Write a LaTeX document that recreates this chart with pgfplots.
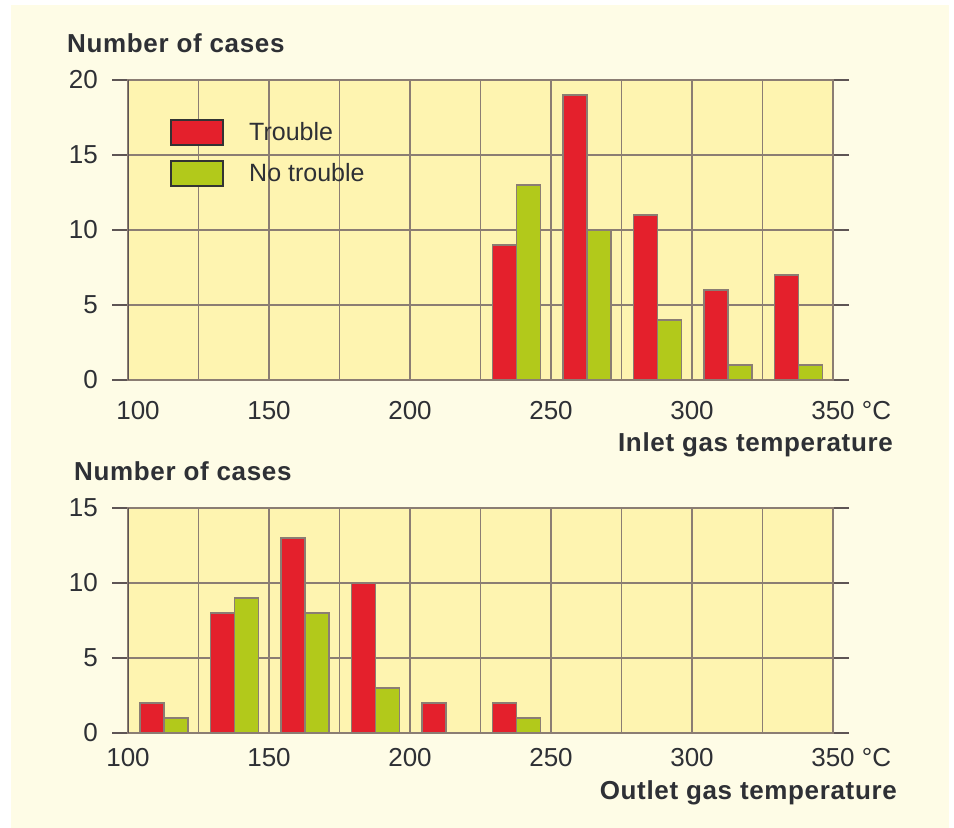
\documentclass[border=0pt]{standalone}
\usepackage{pgfplots}
\pgfplotsset{compat=1.18}
\usepackage{fontspec}
\setmainfont{Liberation Sans}
\definecolor{pagebg}{HTML}{FEFCE6}
\definecolor{axbg}{HTML}{FEF4B0}
\definecolor{tred}{HTML}{E4202C}
\definecolor{tgreen}{HTML}{B2C91B}
\definecolor{gridc}{HTML}{8B7D73}
\definecolor{txt}{HTML}{2E3035}
\definecolor{spine}{HTML}{5E5555}
\newcommand{\tfont}{\fontsize{25bp}{30bp}\selectfont}
\newcommand{\kfont}{\fontsize{26bp}{30bp}\selectfont}
\newcommand{\bfont}{\fontsize{26bp}{30bp}\selectfont\bfseries\addfontfeatures{LetterSpace=2.5}}
\pgfplotsset{
 mystyle/.style={
  scale only axis, width=705bp,
  xmin=100, xmax=350, ymin=0,
  xtick={100,150,...,350},
  minor xtick={125,175,...,325},
  x tick style={draw=none},
  minor x tick style={draw=none},
  y tick style={draw=spine, line width=2bp},
  tick align=outside,
  major tick length=16bp,
  xmajorgrids, xminorgrids, ymajorgrids,
  major grid style={draw=gridc, line width=1.5bp},
  minor grid style={draw=gridc, line width=1.5bp},
  axis line style={draw=gridc, line width=1.5bp},
  axis background/.style={fill=axbg},
  tick label style={font=\kfont, text=txt},
  /pgf/number format/assume math mode=true,
  yticklabel style={anchor=east, inner sep=0pt, xshift=-14bp},
  ybar, bar width=8.5, bar shift=0pt,
  every axis plot/.append style={draw=gridc, line width=1.5bp},
  legend image code/.code={\draw[##1,draw=black!80,line width=2bp] (0bp,-12.5bp) rectangle (52bp,12.5bp);},
 }
}
\begin{document}
\begin{tikzpicture}[x=1bp,y=1bp]
\useasboundingbox (0,0) rectangle (954,828);
\fill[white] (0,0) rectangle (954,828);
\fill[pagebg] (11,0) rectangle (949,823);

\begin{axis}[mystyle, at={(128bp,448bp)}, anchor=south west, height=300bp,
  ymax=20, ytick={0,5,...,20},
  xticklabels={\hspace*{20bp}100,150,200,250,300,350\rlap{\ °C}},
  xticklabel style={anchor=north, inner sep=0pt, yshift=-5bp},
  legend cell align=left,
  legend style={at={(0.0596,0.87)}, anchor=north west, draw=none, fill=none,
    inner sep=0pt, row sep=14bp,
    nodes={inner sep=0pt, text=txt, font=\tfont},
    /tikz/every odd column/.append style={column sep=25bp}},
]
\addplot[fill=tred] coordinates {(233.5,9) (258.5,19) (283.5,11) (308.5,6) (333.5,7)};
\addplot[fill=tgreen] coordinates {(242,13) (267,10) (292,4) (317,1) (342,1)};
\legend{Trouble,No trouble}
\draw[spine, line width=2bp] (rel axis cs:0,0) -- (rel axis cs:0,1);
\end{axis}

\begin{axis}[mystyle, at={(128bp,95bp)}, anchor=south west, height=225bp,
  ymax=15, ytick={0,5,10,15},
  xticklabels={100,150,200,250,300,350\rlap{\ °C}},
  xticklabel style={anchor=north, inner sep=0pt, yshift=1bp},
]
\addplot[fill=tred] coordinates {(108.5,2) (133.5,8) (158.5,13) (183.5,10) (208.5,2) (233.5,2)};
\addplot[fill=tgreen] coordinates {(117,1) (142,9) (167,8) (192,3) (242,1)};
\draw[spine, line width=2bp] (rel axis cs:0,0) -- (rel axis cs:0,1);
\end{axis}

\node[anchor=base west, inner sep=0pt, text=txt, font=\bfont] at (67,775) {Number of cases};
\node[anchor=base east, inner sep=0pt, text=txt, font=\bfont] at (893,376) {Inlet gas temperature};
\node[anchor=base west, inner sep=0pt, text=txt, font=\bfont] at (74,347) {Number of cases};
\node[anchor=base east, inner sep=0pt, text=txt, font=\bfont] at (897,28) {Outlet gas temperature};
\end{tikzpicture}
\end{document}
